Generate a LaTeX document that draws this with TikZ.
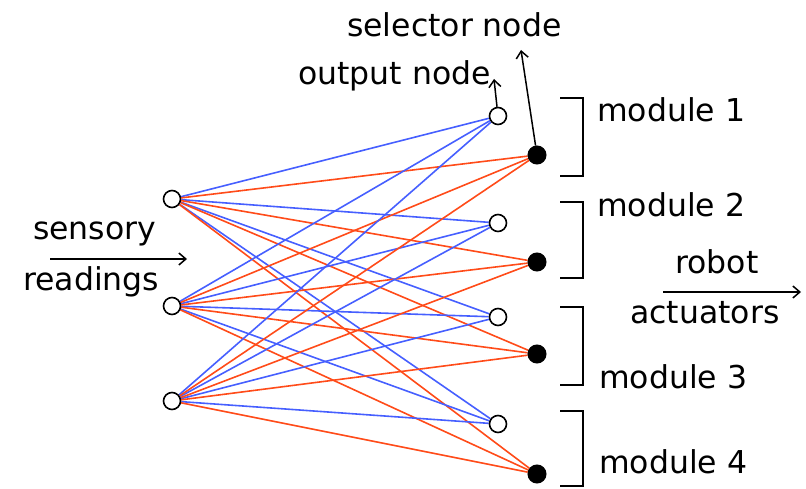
\documentclass[tikz,border=0pt]{standalone}
\usepackage{fontspec}
\setmainfont{DejaVu Sans}
\usetikzlibrary{arrows.meta}
\definecolor{wblue}{RGB}{70,95,255}
\definecolor{wred}{RGB}{255,75,25}
\begin{document}
\begin{tikzpicture}[x=1pt,y=-1pt,
  inode/.style={circle,draw=black,fill=white,line width=1.6pt,minimum size=17pt,inner sep=0pt},
  snode/.style={circle,draw=black,fill=black,line width=1pt,minimum size=18pt,inner sep=0pt},
  bl/.style={wblue,line width=1.6pt},
  rd/.style={wred,line width=1.6pt},
  lbl/.style={font=\fontsize{31.5}{34}\selectfont,anchor=base west,inner sep=0pt},
  arr/.style={-{Straight Barb[length=7pt,width=12pt]},line width=1.5pt},
  brk/.style={line width=1.7pt}]
\useasboundingbox (0,0) rectangle (806,489);
\path
  (172,199) coordinate (ci1) (172,306) coordinate (ci2) (172,401) coordinate (ci3)
  (498,116) coordinate (co1) (498,223) coordinate (co2) (498,317) coordinate (co3) (498,424) coordinate (co4)
  (537,155) coordinate (cs1) (537,262) coordinate (cs2) (537,354) coordinate (cs3) (537,474) coordinate (cs4);
% invisible shapes for clipping the connectors
\foreach \n in {i1,i2,i3,o1,o2,o3,o4}{\node[inode,draw=none,fill=none] (\n) at (c\n) {};}
\foreach \n in {s1,s2,s3,s4}{\node[snode,draw=none,fill=none] (\n) at (c\n) {};}
\foreach \i in {i1,i2,i3}{
  \foreach \o in {o1,o2,o3,o4}{\draw[bl] (\i) -- (\o);}
  \foreach \s in {s1,s2,s3,s4}{\draw[rd] (\i) -- (\s);}
}
\foreach \n in {i1,i2,i3,o1,o2,o3,o4}{\node[inode] at (c\n) {};}
\foreach \n in {s1,s2,s3,s4}{\node[snode] at (c\n) {};}
% labels
\node[lbl] (tsel) at (347,37) {selector node};
\node[lbl] (tout) at (298,85) {output node};
\coordinate (selend) at (521,50);
\coordinate (outend) at (494,79);
\draw[arr] (s1) -- (selend);
\draw[arr] (o1) -- (outend);
\node[lbl] (tsens) at (33,240) {sensory};
\node[lbl] (tread) at (23,290) {readings};
\coordinate (sa) at (50,259);
\coordinate (sb) at (187,259);
\draw[arr] (sa) -- (sb);
\node[lbl] (trob) at (675,273) {robot};
\node[lbl] (tact) at (630,323) {actuators};
\coordinate (ra) at (663,292);
\coordinate (rb) at (801,292);
\draw[arr] (ra) -- (rb);
\node[lbl] (m1) at (597,122) {module 1};
\node[lbl] (m2) at (597,217) {module 2};
\node[lbl] (m3) at (599,388) {module 3};
\node[lbl] (m4) at (599,473) {module 4};
\draw[brk] (560,98) -- (583,98) -- (583,176) -- (560,176);
\draw[brk] (560,202) -- (583,202) -- (583,278) -- (560,278);
\draw[brk] (560,307) -- (583,307) -- (583,385) -- (560,385);
\draw[brk] (560,411) -- (583,411) -- (583,486) -- (560,486);
\end{tikzpicture}
\end{document}
